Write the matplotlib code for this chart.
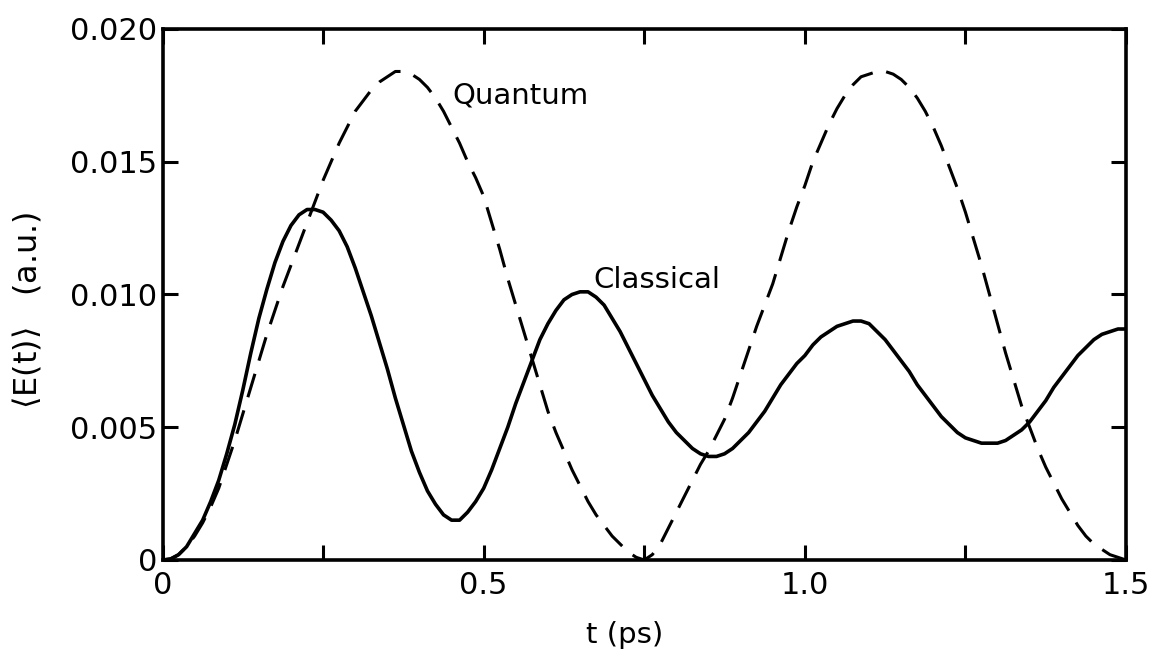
import matplotlib
matplotlib.use('Agg')
import matplotlib.pyplot as plt
import numpy as np

# time axis (ps), sampled every 0.0125 ps
t_ps = np.round(np.arange(0, 121) * 0.0125, 4)

# classical <E(t)> (a.u.)
classical = [
    0.00000, 0.00003, 0.0002, 0.0005, 0.0010, 0.0015, 0.0022, 0.0030, 0.0040, 0.0051,
    0.0064, 0.0078, 0.0091, 0.0102, 0.0112, 0.0120, 0.0126, 0.0130, 0.0132, 0.0132,
    0.0131, 0.0128, 0.0124, 0.0118, 0.0110, 0.0101, 0.0092, 0.0082, 0.0072, 0.0061,
    0.0051, 0.0041, 0.0033, 0.0026, 0.0021, 0.0017, 0.0015, 0.0015, 0.0018, 0.0022,
    0.0027, 0.0034, 0.0042, 0.0050, 0.0059, 0.0067, 0.0075, 0.0083, 0.0089, 0.0094,
    0.0098, 0.0100, 0.0101, 0.0101, 0.0099, 0.0096, 0.0091, 0.0086, 0.0080, 0.0074,
    0.0068, 0.0062, 0.0057, 0.0052, 0.0048, 0.0045, 0.0042, 0.0040, 0.0039, 0.0039,
    0.0040, 0.0042, 0.0045, 0.0048, 0.0052, 0.0056, 0.0061, 0.0066, 0.0070, 0.0074,
    0.0077, 0.0081, 0.0084, 0.0086, 0.0088, 0.0089, 0.0090, 0.0090, 0.0089, 0.0086,
    0.0083, 0.0079, 0.0075, 0.0071, 0.0066, 0.0062, 0.0058, 0.0054, 0.0051, 0.0048,
    0.0046, 0.0045, 0.0044, 0.0044, 0.0044, 0.0045, 0.0047, 0.0049, 0.0052, 0.0056,
    0.0060, 0.0065, 0.0069, 0.0073, 0.0077, 0.0080, 0.0083, 0.0085, 0.0086, 0.0087,
    0.0087,
]

# quantum <E(t)> (a.u.)
quantum = [
    0.00000, 0.00005, 0.0002, 0.0005, 0.0009, 0.0014, 0.0020, 0.0027, 0.0036, 0.0045,
    0.0055, 0.0065, 0.0075, 0.0085, 0.0094, 0.0103, 0.0111, 0.0119, 0.0127, 0.0135,
    0.0143, 0.0150, 0.0157, 0.0163, 0.0169, 0.0173, 0.0177, 0.0180, 0.0182, 0.0184,
    0.0184, 0.0183, 0.0181, 0.0178, 0.0174, 0.0169, 0.0163, 0.0157, 0.0150, 0.0144,
    0.0137, 0.0127, 0.0117, 0.0106, 0.0096, 0.0086, 0.0076, 0.0066, 0.0056, 0.0048,
    0.0041, 0.0034, 0.0028, 0.0022, 0.0017, 0.0013, 0.0009, 0.0006, 0.0003, 0.0001,
    0.0000, 0.0002, 0.0006, 0.0012, 0.0018, 0.0024, 0.0030, 0.0036, 0.0041, 0.0047,
    0.0053, 0.0061, 0.0070, 0.0079, 0.0088, 0.0096, 0.0104, 0.0114, 0.0124, 0.0133,
    0.0141, 0.0150, 0.0157, 0.0164, 0.0170, 0.0175, 0.0179, 0.0182, 0.0183, 0.0184,
    0.0184, 0.0183, 0.0181, 0.0178, 0.0174, 0.0169, 0.0163, 0.0156, 0.0148, 0.0140,
    0.0131, 0.0121, 0.0111, 0.0100, 0.0089, 0.0078, 0.0068, 0.0058, 0.0050, 0.0042,
    0.0035, 0.0029, 0.0023, 0.0018, 0.0013, 0.0009, 0.0006, 0.0004, 0.0002, 0.0001,
    0.0000,
]

x_ticks = [0, 0.25, 0.5, 0.75, 1.0, 1.25, 1.5]
x_labels = ['0', '', '0.5', '', '1.0', '', '1.5']
y_ticks = [0, 0.005, 0.010, 0.015, 0.020]
y_labels = ['0', '0.005', '0.010', '0.015', '0.020']

plt.rcParams['font.family'] = ['DejaVu Sans']
plt.rcParams['mathtext.default'] = 'regular'

fig = plt.figure(figsize=(11.55, 6.62), dpi=100)
ax = fig.add_axes([0.1407, 0.1541, 0.8342, 0.8021])

ax.plot(t_ps, classical, color='black', lw=2.6, solid_capstyle='round',
        solid_joinstyle='round')
ax.plot(t_ps, quantum, color='black', lw=2.2, linestyle=(0, (8, 4.5)))

ax.set_xlim(0, 1.5)
ax.set_ylim(0, 0.020)

ax.set_xticks(x_ticks)
ax.set_xticklabels(x_labels)
ax.set_yticks(y_ticks)
ax.set_yticklabels(y_labels)

ax.tick_params(direction='in', length=11, width=2.2, top=True, right=True,
               labelsize=22)
ax.tick_params(axis='x', pad=8)
ax.tick_params(axis='y', pad=4)

for side in ax.spines.values():
    side.set_linewidth(2.6)

ax.text(0.452, 0.0175, 'Quantum', fontsize=21, ha='left', va='center')
ax.text(0.671, 0.01055, 'Classical', fontsize=21, ha='left', va='center')

ax.set_xlabel('t (ps)', fontsize=21)
ax.xaxis.set_label_coords(0.48, -0.115)
ax.set_ylabel(r'$\langle$E(t)$\rangle$   (a.u.)', fontsize=23)
ax.yaxis.set_label_coords(-0.124, 0.47)

plt.savefig('out.png', dpi=100)
plt.close()
